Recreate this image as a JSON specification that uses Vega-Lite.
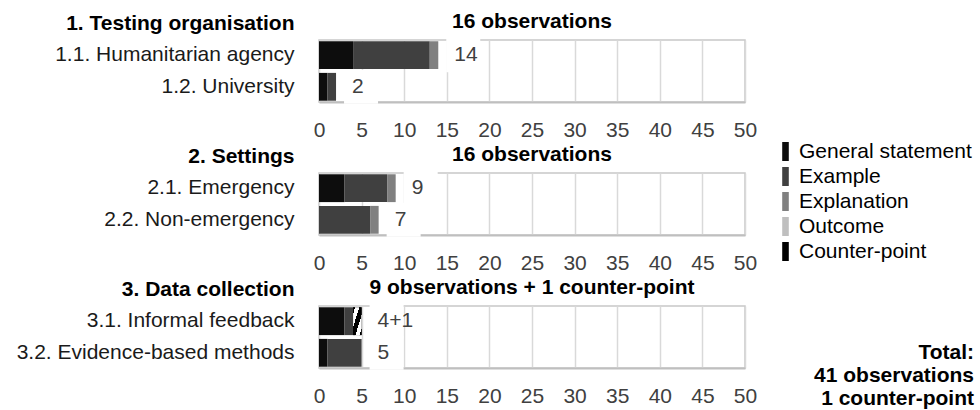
{
  "$schema": "https://vega.github.io/schema/vega-lite/v6.json",
  "background": "white",
  "padding": {"left": 15, "top": 10, "right": 5, "bottom": 5},
  "bounds": "flush",
  "spacing": 71,
  "datasets": {
    "segments": [
      {"panel": 1, "item": "1.1. Humanitarian agency", "category": "General statement", "value": 4},
      {"panel": 1, "item": "1.1. Humanitarian agency", "category": "Example", "value": 9},
      {"panel": 1, "item": "1.1. Humanitarian agency", "category": "Explanation", "value": 1},
      {"panel": 1, "item": "1.2. University", "category": "General statement", "value": 1},
      {"panel": 1, "item": "1.2. University", "category": "Example", "value": 1},
      {"panel": 2, "item": "2.1. Emergency", "category": "General statement", "value": 3},
      {"panel": 2, "item": "2.1. Emergency", "category": "Example", "value": 5},
      {"panel": 2, "item": "2.1. Emergency", "category": "Explanation", "value": 1},
      {"panel": 2, "item": "2.2. Non-emergency", "category": "Example", "value": 6},
      {"panel": 2, "item": "2.2. Non-emergency", "category": "Explanation", "value": 1},
      {"panel": 3, "item": "3.1. Informal feedback", "category": "General statement", "value": 3},
      {"panel": 3, "item": "3.1. Informal feedback", "category": "Example", "value": 1},
      {"panel": 3, "item": "3.1. Informal feedback", "category": "Counter-point", "value": 1},
      {"panel": 3, "item": "3.2. Evidence-based methods", "category": "General statement", "value": 1},
      {"panel": 3, "item": "3.2. Evidence-based methods", "category": "Example", "value": 4}
    ],
    "totals": [
      {"panel": 1, "item": "1.1. Humanitarian agency", "total": 14, "label": "14"},
      {"panel": 1, "item": "1.2. University", "total": 2, "label": "2"},
      {"panel": 2, "item": "2.1. Emergency", "total": 9, "label": "9"},
      {"panel": 2, "item": "2.2. Non-emergency", "total": 7, "label": "7"},
      {"panel": 3, "item": "3.1. Informal feedback", "total": 5, "label": "4+1"},
      {"panel": 3, "item": "3.2. Evidence-based methods", "total": 5, "label": "5"}
    ]
  },
  "config": {
    "font": "Liberation Sans",
    "view": {"stroke": "#c8c8c8", "strokeWidth": 1.5},
    "title": {"fontSize": 21, "fontWeight": "bold", "color": "#000000", "anchor": "middle", "offset": -20},
    "axisX": {
      "values": [0, 5, 10, 15, 20, 25, 30, 35, 40, 45, 50],
      "title": null,
      "ticks": false,
      "labelPadding": 17,
      "labelFontSize": 21,
      "labelColor": "#404040",
      "labelFlush": false,
      "domainColor": "#bfbfbf",
      "domainWidth": 2,
      "gridColor": "#d9d9d9",
      "gridWidth": 1.5
    },
    "axisY": {
      "ticks": false,
      "domain": false,
      "grid": false,
      "labelPadding": 25,
      "labelFontSize": 21,
      "labelColor": "#1a1a1a",
      "labelLimit": 400,
      "titleAngle": 0,
      "titleAlign": "right",
      "titleBaseline": "middle",
      "titleX": -25,
      "titleY": -17,
      "titleFontSize": 21,
      "titleFontWeight": "bold",
      "titleColor": "#000000"
    },
    "legend": {
      "orient": "none",
      "legendX": 456,
      "legendY": 101,
      "title": null,
      "labelFontSize": 21,
      "labelColor": "#000000",
      "labelLimit": 300,
      "labelOffset": 3,
      "rowPadding": 3,
      "symbolType": "M-0.33,-0.95H0.33V0.95H-0.33Z",
      "symbolSize": 400,
      "symbolStrokeWidth": 0
    }
  },
  "title": {
    "text": ["Total:", "41 observations", "1 counter-point"],
    "orient": "bottom",
    "anchor": "end",
    "frame": "group",
    "align": "right",
    "fontSize": 21,
    "fontWeight": "bold",
    "lineHeight": 23,
    "offset": 0,
    "dy": -65,
    "dx": 229
  },
  "vconcat": [
    {
      "width": 426,
      "height": 62,
      "title": {"text": "16 observations"},
      "layer": [
        {
          "data": {"name": "totals"},
          "transform": [{"filter": "datum.panel === 1"}],
          "mark": {"type": "point", "shape": "M8,-17H42V17H8Z", "size": 4, "filled": true, "color": "white", "opacity": 1, "strokeWidth": 0},
          "encoding": {
            "x": {"field": "total", "type": "quantitative", "scale": {"domain": [0, 50]}},
            "y": {"field": "item", "type": "nominal", "sort": null, "scale": {"paddingInner": 0.12, "paddingOuter": 0.04}, "axis": {"title": "1. Testing organisation"}}
          }
        },
        {
          "data": {"name": "segments"},
          "transform": [
            {"filter": "datum.panel === 1"},
            {"calculate": "indexof(['General statement','Example','Explanation','Outcome','Counter-point'], datum.category)", "as": "rank"}
          ],
          "mark": {"type": "bar"},
          "encoding": {
            "x": {"field": "value", "type": "quantitative", "stack": "zero"},
            "y": {"field": "item", "type": "nominal", "sort": null},
            "color": {
              "field": "category",
              "type": "nominal",
              "scale": {
                "domain": ["General statement", "Example", "Explanation", "Outcome", "Counter-point"],
                "range": ["#0d0d0d", "#404040", "#808080", "#bfbfbf", "#000000"]
              }
            },
            "order": {"field": "rank", "type": "quantitative"}
          }
        },
        {
          "data": {"name": "totals"},
          "transform": [{"filter": "datum.panel === 1"}],
          "mark": {"type": "text", "align": "left", "baseline": "middle", "dx": 16, "fontSize": 21, "color": "#404040"},
          "encoding": {
            "x": {"field": "total", "type": "quantitative"},
            "y": {"field": "item", "type": "nominal", "sort": null},
            "text": {"field": "label"}
          }
        }
      ]
    },
    {
      "width": 426,
      "height": 62,
      "title": {"text": "16 observations"},
      "layer": [
        {
          "data": {"name": "totals"},
          "transform": [{"filter": "datum.panel === 2"}],
          "mark": {"type": "point", "shape": "M8,-17H42V17H8Z", "size": 4, "filled": true, "color": "white", "opacity": 1, "strokeWidth": 0},
          "encoding": {
            "x": {"field": "total", "type": "quantitative", "scale": {"domain": [0, 50]}},
            "y": {"field": "item", "type": "nominal", "sort": null, "scale": {"paddingInner": 0.12, "paddingOuter": 0.04}, "axis": {"title": "2. Settings"}}
          }
        },
        {
          "data": {"name": "segments"},
          "transform": [
            {"filter": "datum.panel === 2"},
            {"calculate": "indexof(['General statement','Example','Explanation','Outcome','Counter-point'], datum.category)", "as": "rank"}
          ],
          "mark": {"type": "bar"},
          "encoding": {
            "x": {"field": "value", "type": "quantitative", "stack": "zero"},
            "y": {"field": "item", "type": "nominal", "sort": null},
            "color": {"field": "category", "type": "nominal"},
            "order": {"field": "rank", "type": "quantitative"}
          }
        },
        {
          "data": {"name": "totals"},
          "transform": [{"filter": "datum.panel === 2"}],
          "mark": {"type": "text", "align": "left", "baseline": "middle", "dx": 16, "fontSize": 21, "color": "#404040"},
          "encoding": {
            "x": {"field": "total", "type": "quantitative"},
            "y": {"field": "item", "type": "nominal", "sort": null},
            "text": {"field": "label"}
          }
        }
      ]
    },
    {
      "width": 426,
      "height": 62,
      "title": {"text": "9 observations + 1 counter-point"},
      "layer": [
        {
          "data": {"name": "totals"},
          "transform": [{"filter": "datum.panel === 3"}],
          "mark": {"type": "point", "shape": "M8,-17H42V17H8Z", "size": 4, "filled": true, "color": "white", "opacity": 1, "strokeWidth": 0},
          "encoding": {
            "x": {"field": "total", "type": "quantitative", "scale": {"domain": [0, 50]}},
            "y": {"field": "item", "type": "nominal", "sort": null, "scale": {"paddingInner": 0.12, "paddingOuter": 0.04}, "axis": {"title": "3. Data collection"}}
          }
        },
        {
          "data": {"name": "segments"},
          "transform": [
            {"filter": "datum.panel === 3"},
            {"calculate": "indexof(['General statement','Example','Explanation','Outcome','Counter-point'], datum.category)", "as": "rank"}
          ],
          "mark": {"type": "bar"},
          "encoding": {
            "x": {"field": "value", "type": "quantitative", "stack": "zero"},
            "y": {"field": "item", "type": "nominal", "sort": null},
            "color": {"field": "category", "type": "nominal"},
            "order": {"field": "rank", "type": "quantitative"}
          }
        },
        {
          "data": {"name": "segments"},
          "transform": [
            {"filter": "datum.panel === 3"},
            {"calculate": "indexof(['General statement','Example','Explanation','Outcome','Counter-point'], datum.category)", "as": "rank"}
          ],
          "mark": {"type": "bar"},
          "encoding": {
            "x": {"field": "value", "type": "quantitative", "stack": "zero"},
            "y": {"field": "item", "type": "nominal", "sort": null},
            "fill": {
              "condition": {
                "test": "datum.category === 'Counter-point'",
                "value": {"gradient": "linear", "x1": 0, "y1": 0, "x2": 1, "y2": 1,
                  "stops": [
                    {"offset": 0, "color": "#000000"}, {"offset": 0.12, "color": "#000000"},
                    {"offset": 0.12, "color": "#ffffff"}, {"offset": 0.36, "color": "#ffffff"},
                    {"offset": 0.36, "color": "#000000"}, {"offset": 0.64, "color": "#000000"},
                    {"offset": 0.64, "color": "#ffffff"}, {"offset": 0.88, "color": "#ffffff"},
                    {"offset": 0.88, "color": "#000000"}, {"offset": 1, "color": "#000000"}
                  ]}
              },
              "value": "transparent"
            },
            "order": {"field": "rank", "type": "quantitative"}
          }
        },
        {
          "data": {"name": "totals"},
          "transform": [{"filter": "datum.panel === 3"}],
          "mark": {"type": "text", "align": "left", "baseline": "middle", "dx": 16, "fontSize": 21, "color": "#404040"},
          "encoding": {
            "x": {"field": "total", "type": "quantitative"},
            "y": {"field": "item", "type": "nominal", "sort": null},
            "text": {"field": "label"}
          }
        }
      ]
    }
  ],
  "resolve": {"scale": {"color": "shared"}}
}
